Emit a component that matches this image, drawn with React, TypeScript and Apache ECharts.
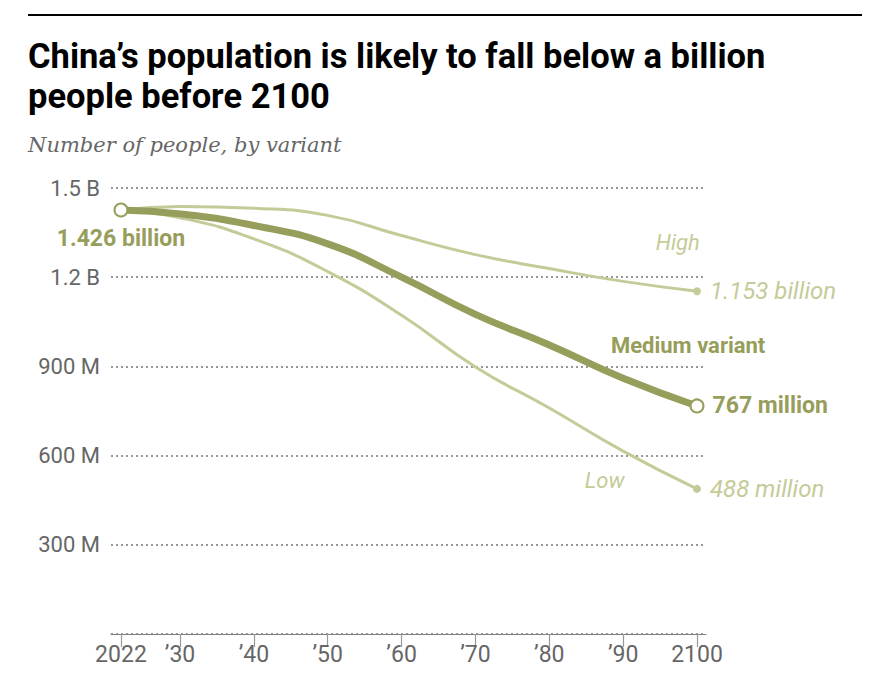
import React, { useEffect, useRef } from "react";
import * as echarts from "echarts";

const years = [2022, 2030, 2040, 2050, 2060, 2070, 2080, 2090, 2100];
const highValues = [1426, 1438, 1432, 1408, 1340, 1276, 1229, 1186, 1153];
const mediumValues = [1426, 1413, 1374, 1312, 1200, 1075, 972, 860, 767];
const lowValues = [1426, 1400, 1329, 1219, 1072, 898, 760, 615, 488];
const xTickYears = [2022, 2030, 2040, 2050, 2060, 2070, 2080, 2090, 2100];
const startLabel = "1.426 billion";
const endLabels = { high: "1.153 billion", medium: "767 million", low: "488 million" };
const seriesNames = { high: "High", medium: "Medium variant", low: "Low" };

const DARK = "#979d5a";
const LIGHT = "#c5cb98";
const GRAY = "#666666";
const FONT = "Roboto, 'Liberation Sans', sans-serif";

function pairs(vals: number[]) {
  return years.map((y, i) => [y, vals[i]]);
}

export default function App() {
  const ref = useRef<HTMLDivElement>(null);
  useEffect(() => {
    document.body.style.margin = "0";
    const chart = echarts.init(ref.current!, undefined, { renderer: "svg" });
    const last = years.length - 1;

    const lightData = (vals: number[], endText: string) =>
      pairs(vals).map((p, i) =>
        i === last
          ? {
              value: p,
              symbol: "circle",
              symbolSize: 8,
              label: {
                show: true,
                position: "right",
                distance: 9,
                formatter: endText,
                color: LIGHT,
                fontFamily: FONT,
                fontStyle: "italic",
                fontSize: 24,
              },
            }
          : { value: p, symbol: "none" }
      );

    const mediumData = pairs(mediumValues).map((p, i) => {
      if (i === 0) {
        return {
          value: p,
          symbol: "circle",
          symbolSize: 13,
          label: {
            show: true,
            position: "bottom",
            distance: 9,
            formatter: startLabel,
            color: DARK,
            fontFamily: FONT,
            fontWeight: "bold",
            fontSize: 23,
          },
        };
      }
      if (i === last) {
        return {
          value: p,
          symbol: "circle",
          symbolSize: 13,
          label: {
            show: true,
            position: "right",
            distance: 8,
            formatter: endLabels.medium,
            color: DARK,
            fontFamily: FONT,
            fontWeight: "bold",
            fontSize: 23,
          },
        };
      }
      return { value: p, symbol: "none" };
    });

    const nameMark = (coord: number[], text: string, bold: boolean, color: string) => ({
      symbol: "circle",
      symbolSize: 1,
      coord,
      itemStyle: { color: "rgba(0,0,0,0)" },
      label: {
        show: true,
        position: "inside",
        formatter: text,
        color,
        fontFamily: FONT,
        fontSize: 22,
        fontStyle: bold ? "normal" : "italic",
        fontWeight: bold ? "bold" : "normal",
      },
    });

    chart.setOption({
      animation: false,
      title: [
        {
          text: "China’s population is likely to fall below a billion\npeople before 2100",
          left: 28,
          top: 36,
          padding: 0,
          textStyle: {
            fontFamily: FONT,
            fontWeight: "bold",
            fontSize: 34.5,
            lineHeight: 40,
            color: "#000",
          },
        },
        {
          text: "Number of people, by variant",
          left: 28,
          top: 134,
          padding: 0,
          textStyle: {
            fontFamily: "'DejaVu Serif', serif",
            fontStyle: "italic",
            fontWeight: "normal",
            fontSize: 21,
            color: GRAY,
          },
        },
      ],
      graphic: [
        { type: "rect", shape: { x: 28, y: 14, width: 834, height: 2 }, style: { fill: "#000" } },
      ],
      grid: { left: 111, right: 186, top: 188, bottom: 44 },
      xAxis: {
        type: "value",
        min: 2020.65,
        max: 2101.22,
        axisLine: { show: true, lineStyle: { color: "#808080", width: 1.2 } },
        axisTick: {
          show: true,
          customValues: xTickYears,
          length: 13,
          lineStyle: { color: "#999", width: 1.2 },
        },
        axisLabel: {
          customValues: xTickYears,
          margin: 9,
          color: GRAY,
          fontFamily: FONT,
          fontSize: 23,
          formatter: (v: number) =>
            v === 2022 || v === 2100 ? String(v) : "’" + String(v).slice(2),
        },
        splitLine: { show: false },
      },
      yAxis: {
        type: "value",
        min: 0,
        max: 1500,
        interval: 300,
        axisLine: { show: false },
        axisTick: { show: false },
        axisLabel: {
          margin: 11,
          color: GRAY,
          fontFamily: FONT,
          fontSize: 22,
          formatter: (v: number) =>
            v === 0 ? "" : v >= 1000 ? `${v / 1000} B` : `${v} M`,
        },
        splitLine: {
          show: true,
          lineStyle: { color: "#777", type: [2, 3], width: 1.5 },
        },
      },
      series: [
        {
          name: seriesNames.high,
          type: "line",
          smooth: 0.5,
          data: lightData(highValues, endLabels.high),
          lineStyle: { color: LIGHT, width: 3 },
          itemStyle: { color: LIGHT },
          z: 2,
          markPoint: {
            silent: true,
            data: [nameMark([2097.4, 1317], seriesNames.high, false, LIGHT)],
          },
        },
        {
          name: seriesNames.low,
          type: "line",
          smooth: 0.5,
          data: lightData(lowValues, endLabels.low),
          lineStyle: { color: LIGHT, width: 3 },
          itemStyle: { color: LIGHT },
          z: 2,
          markPoint: {
            silent: true,
            data: [nameMark([2087.5, 516], seriesNames.low, false, LIGHT)],
          },
        },
        {
          name: seriesNames.medium,
          type: "line",
          smooth: 0.5,
          data: mediumData,
          lineStyle: { color: DARK, width: 7 },
          itemStyle: { color: "#fff", borderColor: DARK, borderWidth: 2 },
          z: 3,
          markPoint: {
            silent: true,
            data: [nameMark([2098.8, 970], seriesNames.medium, true, DARK)],
          },
        },
      ],
    });
    return () => chart.dispose();
  }, []);
  return <div ref={ref} style={{ width: 892, height: 678 }} />;
}
